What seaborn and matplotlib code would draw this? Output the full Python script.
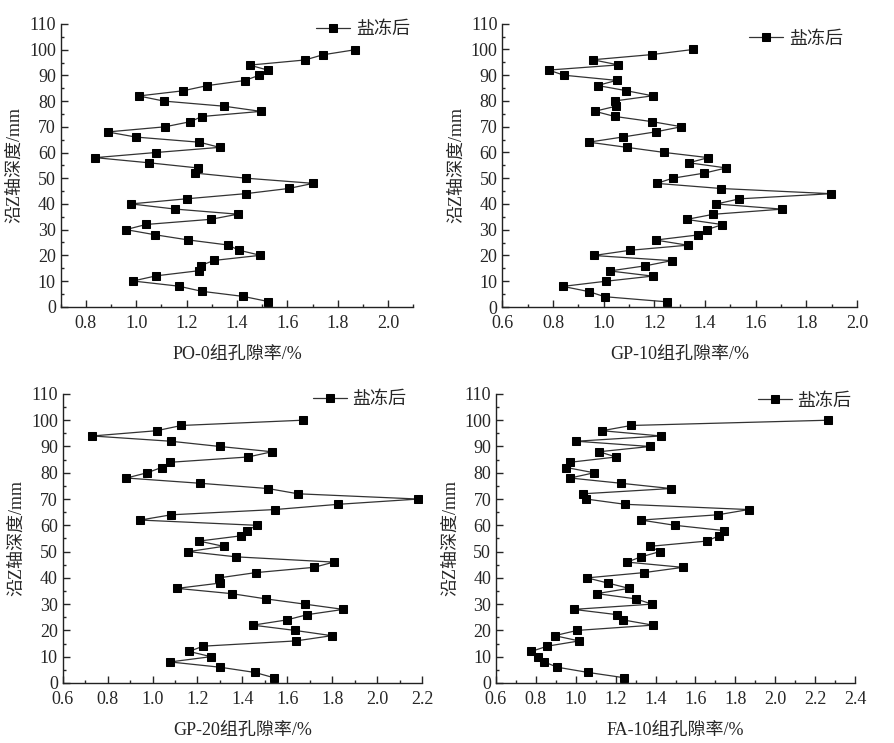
#Porosity along Z-axis depth after salt-freeze, four mix groups

import matplotlib
matplotlib.use("Agg")
import matplotlib.pyplot as plt
import seaborn as sns
from matplotlib.ticker import MultipleLocator

#data (depth in mm, porosity in %)
depth = [2, 4, 6, 8, 10, 12, 14, 16, 18, 20, 22, 24, 26, 28, 30, 32, 34, 36, 38, 40,
         42, 44, 46, 48, 50, 52, 54, 56, 58, 60, 62, 64, 66, 68, 70, 72, 74, 76, 78, 80,
         82, 84, 86, 88, 90, 92, 94, 96, 98, 100]

po0 = [1.525, 1.425, 1.26, 1.168, 0.987, 1.078, 1.248, 1.256, 1.308, 1.493,
       1.407, 1.365, 1.205, 1.074, 0.959, 1.039, 1.296, 1.403, 1.153, 0.979,
       1.201, 1.436, 1.605, 1.703, 1.436, 1.233, 1.244, 1.05, 0.837, 1.078,
       1.331, 1.251, 0.999, 0.886, 1.114, 1.215, 1.26, 1.495, 1.35, 1.11,
       1.01, 1.185, 1.28, 1.43, 1.487, 1.525, 1.45, 1.67, 1.74, 1.87]

gp10 = [1.251, 1.004, 0.941, 0.839, 1.008, 1.193, 1.024, 1.165, 1.268, 0.961,
        1.102, 1.331, 1.205, 1.374, 1.406, 1.469, 1.327, 1.433, 1.705, 1.445,
        1.536, 1.898, 1.465, 1.21, 1.272, 1.398, 1.484, 1.336, 1.413, 1.24,
        1.091, 0.941, 1.075, 1.205, 1.307, 1.189, 1.043, 0.965, 1.05, 1.043,
        1.193, 1.089, 0.976, 1.051, 0.843, 0.783, 1.058, 0.957, 1.189, 1.354]

gp20 = [1.54, 1.456, 1.3, 1.078, 1.26, 1.163, 1.225, 1.638, 1.798, 1.634,
        1.447, 1.598, 1.689, 1.85, 1.678, 1.505, 1.352, 1.109, 1.299, 1.296,
        1.46, 1.718, 1.807, 1.372, 1.16, 1.317, 1.207, 1.394, 1.42, 1.465,
        0.945, 1.083, 1.545, 1.828, 2.184, 1.647, 1.514, 1.212, 0.884, 0.976,
        1.04, 1.08, 1.425, 1.532, 1.3, 1.081, 0.732, 1.018, 1.129, 1.669]

fa10 = [1.242, 1.062, 0.907, 0.842, 0.812, 0.777, 0.857, 1.017, 0.894, 1.007,
        1.387, 1.237, 1.207, 0.989, 1.382, 1.302, 1.105, 1.267, 1.162, 1.057,
        1.342, 1.537, 1.257, 1.327, 1.422, 1.372, 1.657, 1.717, 1.742, 1.497,
        1.327, 1.712, 1.867, 1.247, 1.052, 1.037, 1.477, 1.227, 0.972, 1.092,
        0.952, 0.972, 1.202, 1.117, 1.372, 1.003, 1.427, 1.132, 1.278, 2.267]

xlabels = ["PO-0组孔隙率/%", "GP-10组孔隙率/%", "GP-20组孔隙率/%", "FA-10组孔隙率/%"]
ylabel = "沿Z轴深度/mm"
series = [po0, gp10, gp20, fa10]
xlims = [(0.7, 2.1), (0.6, 2.0), (0.6, 2.2), (0.6, 2.4)]
legend_label = "盐冻后"

sns.set_style("ticks")
fonts = ["Liberation Serif", "Noto Sans CJK SC"]
plt.rcParams["font.family"] = fonts

fig = plt.figure(figsize=(8.94, 7.43), dpi=100)
# axes boxes [left, bottom, width, height] in figure fractions
boxes = [[0.0679, 0.5872, 0.3944, 0.3805],
         [0.5619, 0.5868, 0.3967, 0.3813],
         [0.0701, 0.0808, 0.4020, 0.3890],
         [0.5548, 0.0808, 0.4016, 0.3890]]
leg_anchor = [(0.99, 1.01), (0.96, 0.975), (0.957, 1.01), (0.99, 1.005)]

for i in range(4):
    ax = fig.add_axes(boxes[i])
    sns.lineplot(x=series[i], y=depth, sort=False, estimator=None, ax=ax,
                 color="#333333", marker="s", markersize=5.5, linewidth=0.9,
                 markeredgecolor="black", markerfacecolor="black", label=legend_label)
    ax.set_xlim(*xlims[i])
    ax.set_ylim(0, 110)
    ax.xaxis.set_major_locator(MultipleLocator(0.2))
    ax.xaxis.set_minor_locator(MultipleLocator(0.1))
    ax.yaxis.set_major_locator(MultipleLocator(10))
    ax.yaxis.set_minor_locator(MultipleLocator(5))
    ax.tick_params(which="major", direction="in", length=5, width=1, labelsize=13)
    ax.tick_params(axis="x", which="major", pad=6)
    ax.tick_params(which="minor", direction="in", length=2.5, width=1)
    sns.despine(ax=ax)
    for s in ["left", "bottom"]:
        ax.spines[s].set_linewidth(1.0)
        ax.spines[s].set_color("#222222")
    ax.set_xlabel(xlabels[i], fontsize=13, labelpad=10)
    ax.set_ylabel(ylabel, fontsize=13, labelpad=4)
    ax.legend(loc="upper right", bbox_to_anchor=leg_anchor[i], frameon=False,
              fontsize=13, handlelength=1.9, handletextpad=0.3,
              borderpad=0, borderaxespad=0, numpoints=1)

fig.savefig("out.png", dpi=100)
